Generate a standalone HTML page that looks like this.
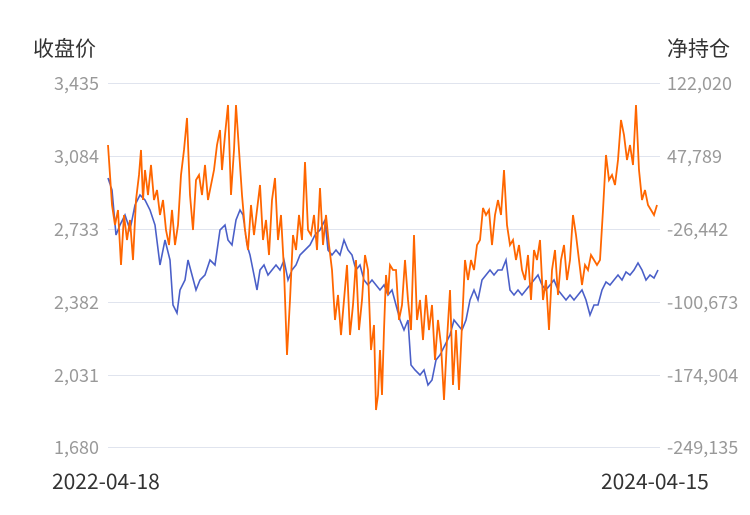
<!DOCTYPE html>
<html><head><meta charset="utf-8"><style>
html,body{margin:0;padding:0;background:#fff;}
body{width:750px;height:510px;overflow:hidden;font-family:"Noto Sans CJK SC",sans-serif;}
</style></head><body>
<svg width="750" height="510" xmlns="http://www.w3.org/2000/svg" style="font-family:'Noto Sans CJK SC',sans-serif">
<g stroke="#e0e4ee" stroke-width="1">
<line x1="108" y1="83.5" x2="660" y2="83.5"/>
<line x1="108" y1="156.5" x2="660" y2="156.5"/>
<line x1="108" y1="229.5" x2="660" y2="229.5"/>
<line x1="108" y1="302.5" x2="660" y2="302.5"/>
<line x1="108" y1="375.5" x2="660" y2="375.5"/>
<line x1="108" y1="447.5" x2="660" y2="447.5"/>
</g>
<g fill="#333" font-size="21">
<text x="33" y="56">收盘价</text>
<text x="667" y="56">净持仓</text>
</g>
<g fill="#999" font-size="18" text-anchor="end">
<text x="99" y="90">3,435</text>
<text x="99" y="163">3,084</text>
<text x="99" y="236">2,733</text>
<text x="99" y="309">2,382</text>
<text x="99" y="382">2,031</text>
<text x="99" y="454">1,680</text>
</g>
<g fill="#999" font-size="18">
<text x="667" y="90">122,020</text>
<text x="667" y="163">47,789</text>
<text x="667" y="236">-26,442</text>
<text x="667" y="309">-100,673</text>
<text x="667" y="382">-174,904</text>
<text x="667" y="454">-249,135</text>
</g>
<g fill="#333" font-size="21">
<text x="52" y="489">2022-04-18</text>
<text x="601" y="489">2024-04-15</text>
</g>
<polyline fill="none" stroke="#4a5fc8" stroke-width="1.6" points="108,178 112,190 116,235 120,225 125,215 130,230 135,205 140,195 145,200 150,210 155,225 160,265 165,240 170,260 173,305 177,313 180,290 185,280 188,260 192,275 196,290 200,280 205,275 210,260 215,265 220,230 225,225 228,240 232,245 236,220 240,210 243,215 247,245 250,255 254,275 257,290 260,270 264,265 268,275 272,270 276,265 280,270 284,260 288,280 292,270 296,265 300,255 305,250 310,245 315,235 320,230 325,220 328,250 332,255 336,250 340,255 344,240 348,250 352,255 356,270 360,265 364,280 368,285 372,280 376,285 380,290 384,285 388,295 392,290 396,305 400,320 404,330 408,320 411,365 415,370 420,375 424,370 428,385 432,380 436,360 440,355 445,345 450,335 454,320 458,325 462,330 466,320 470,300 474,290 478,300 482,280 486,275 490,270 494,275 498,270 502,270 506,260 510,290 514,295 518,290 522,295 526,290 530,285 534,280 538,275 542,285 546,290 550,285 554,280 558,290 562,295 566,300 570,295 574,300 578,295 582,290 586,300 590,315 594,305 598,305 602,290 606,282 610,285 614,280 618,275 622,280 626,272 630,275 634,270 638,263 642,270 646,280 650,275 654,278 658,270"/>
<polyline fill="none" stroke="#ff6600" stroke-width="1.8" points="108,145 112,205 115,225 118,210 121,265 124,215 127,240 130,220 133,260 136,200 139,175 141,150 143,200 145,170 148,195 151,165 154,200 157,190 160,215 163,200 166,230 169,245 172,210 175,245 178,225 181,175 184,150 187,118 190,195 193,230 196,180 199,175 202,195 205,165 208,200 211,185 214,170 217,145 220,130 222,170 225,135 228,105 231,195 234,150 236,105 239,150 242,195 245,230 248,250 251,205 254,235 257,210 260,185 263,240 266,220 269,255 272,200 275,178 278,240 281,215 284,270 287,355 290,300 293,235 296,250 299,215 302,240 305,162 308,230 311,235 314,215 317,250 320,188 323,245 326,215 329,245 332,270 335,320 338,295 341,335 344,300 347,265 350,335 353,305 356,260 359,330 362,300 365,255 368,270 371,350 374,325 376,410 378,395 380,350 382,395 384,330 386,275 388,295 390,265 393,270 396,270 399,320 402,305 405,260 408,300 411,330 414,235 417,320 420,300 423,340 426,295 429,330 432,305 435,360 438,320 441,345 444,400 447,340 450,290 453,385 456,330 459,390 462,325 465,260 468,280 471,260 474,270 477,245 480,240 483,208 486,215 489,210 492,245 495,215 498,200 501,215 504,170 507,225 510,245 513,240 516,260 519,245 522,270 525,280 528,255 531,300 534,250 537,260 540,240 543,300 546,280 549,330 552,270 555,250 558,295 561,260 564,245 567,280 570,260 573,215 576,235 579,260 582,285 585,265 588,270 591,255 594,260 597,265 600,260 603,210 606,155 609,180 612,175 615,185 618,160 621,120 624,135 627,160 630,145 633,165 636,105 639,170 642,200 645,190 648,205 651,210 654,215 657,205"/>
</svg>
</body></html>
